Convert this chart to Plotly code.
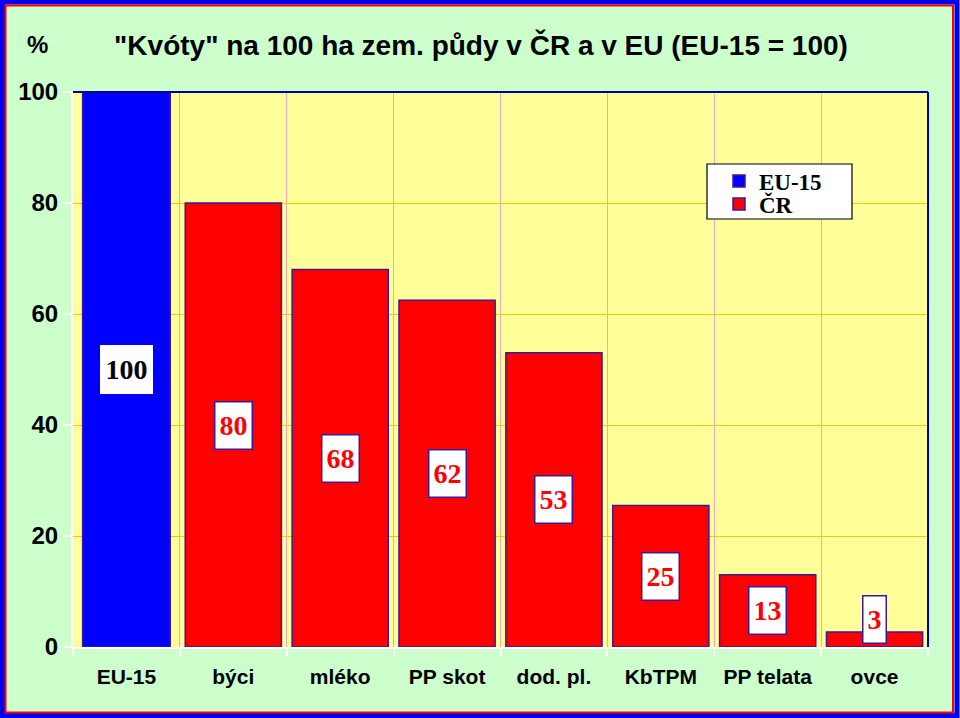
import plotly.graph_objects as go

categories = ["EU-15", "býci", "mléko", "PP skot", "dod. pl.", "KbTPM", "PP telata", "ovce"]
eu_values = [100]
cr_values = [80, 68, 62.5, 53, 25.5, 13, 2.7]
label_texts = ["100", "80", "68", "62", "53", "25", "13", "3"]

W, H = 960, 718
L, R, T, B = 73, 32, 92, 71
pw, ph = W - L - R, H - T - B


def px(x):
    return (x - L) / pw


def py(y):
    return (H - B - y) / ph


SANS = "Arial, Liberation Sans, sans-serif"
SERIF = "Times New Roman, Liberation Serif, serif"
OUTLINE = "#3a1a9a"

fig = go.Figure()
fig.add_trace(go.Bar(
    x=categories[:1], y=eu_values, name="EU-15", legend="legend",
    marker=dict(color="#0000FF", line=dict(color=OUTLINE, width=1.5)),
    width=[0.82],
))
fig.add_trace(go.Bar(
    x=categories[1:], y=cr_values, name="ČR", legend="legend2",
    marker=dict(color="#FF0000", line=dict(color=OUTLINE, width=1.5)),
    width=[0.9] * len(cr_values),
))

all_vals = eu_values + cr_values
for i, (cat, v, t) in enumerate(zip(categories, all_vals, label_texts)):
    fig.add_annotation(
        x=cat, y=max(v / 2, 5), text=t, showarrow=False,
        font=dict(family=SERIF, size=28, color="#000000" if i == 0 else "#FF0000", weight="bold"),
        bgcolor="#FFFFFF", bordercolor="#FFFFFF" if i == 0 else OUTLINE,
        borderwidth=1.5, borderpad=4, height=38, valign="middle",
        xanchor="center", yanchor="middle",
    )

fig.add_annotation(
    x=px(37), y=py(45), xref="paper", yref="paper", text="%", showarrow=False,
    font=dict(family=SANS, size=24, color="#000000", weight="bold"),
    xanchor="center", yanchor="middle",
)

shapes = [
    dict(type="line", xref="paper", yref="paper", x0=0, x1=1, y0=1, y1=1,
         line=dict(color="#000099", width=2)),
    dict(type="line", xref="paper", yref="paper", x0=1, x1=1, y0=0, y1=1,
         line=dict(color="#0000CC", width=2)),
    dict(type="rect", xref="paper", yref="paper", x0=px(707), x1=px(852), y0=py(164), y1=py(219),
         fillcolor="#FFFFFF", line=dict(color="#000000", width=1.2), layer="above"),
    dict(type="rect", xref="paper", yref="paper", x0=px(2.5), x1=px(957), y0=py(2), y1=py(715.5),
         line=dict(color="#0000EE", width=5)),
    dict(type="rect", xref="paper", yref="paper", x0=px(5.5), x1=px(953), y0=py(5.5), y1=py(712.5),
         line=dict(color="#FF0000", width=2)),
]

legend_common = dict(
    xanchor="left", yanchor="middle",
    bgcolor="rgba(0,0,0,0)", borderwidth=0,
    font=dict(family=SERIF, size=23, color="#000000", weight="bold"),
    itemwidth=30,
)

fig.update_layout(
    width=W, height=H,
    margin=dict(l=L, r=R, t=T, b=B),
    paper_bgcolor="#CCFFCC",
    plot_bgcolor="#FFFF99",
    barmode="overlay",
    title=dict(
        text='"Kvóty" na 100 ha zem. půdy v ČR a v EU (EU-15 = 100)',
        x=481 / W, y=1 - 45 / H, xref="container", yref="container",
        xanchor="center", yanchor="middle",
        font=dict(family=SANS, size=28, color="#000000", weight="bold"),
    ),
    showlegend=True,
    legend=dict(x=px(719), y=py(181), **legend_common),
    legend2=dict(x=px(719), y=py(204), **legend_common),
    xaxis=dict(
        type="category", categoryorder="array", categoryarray=categories,
        tickson="boundaries", showgrid=True, gridcolor="#F0A8C0", gridwidth=1,
        showline=True, linecolor="#FFFFFF", linewidth=2,
        ticks="outside", ticklen=7, tickcolor="#FFFFFF", tickwidth=2,
        ticklabelstandoff=10,
        tickfont=dict(family=SANS, size=21, color="#000000", weight="bold"),
        range=[-0.5, len(categories) - 0.5],
    ),
    yaxis=dict(
        range=[0, 100], tickvals=[0, 20, 40, 60, 80, 100],
        showgrid=True, gridcolor="#EECC00", gridwidth=1, zeroline=False,
        showline=True, linecolor="#FFFFFF", linewidth=2,
        ticks="outside", ticklen=8, tickcolor="#FFFFFF", tickwidth=2,
        tickfont=dict(family=SANS, size=24, color="#000000", weight="bold"),
    ),
    shapes=shapes,
)

fig.write_html("out.html")
